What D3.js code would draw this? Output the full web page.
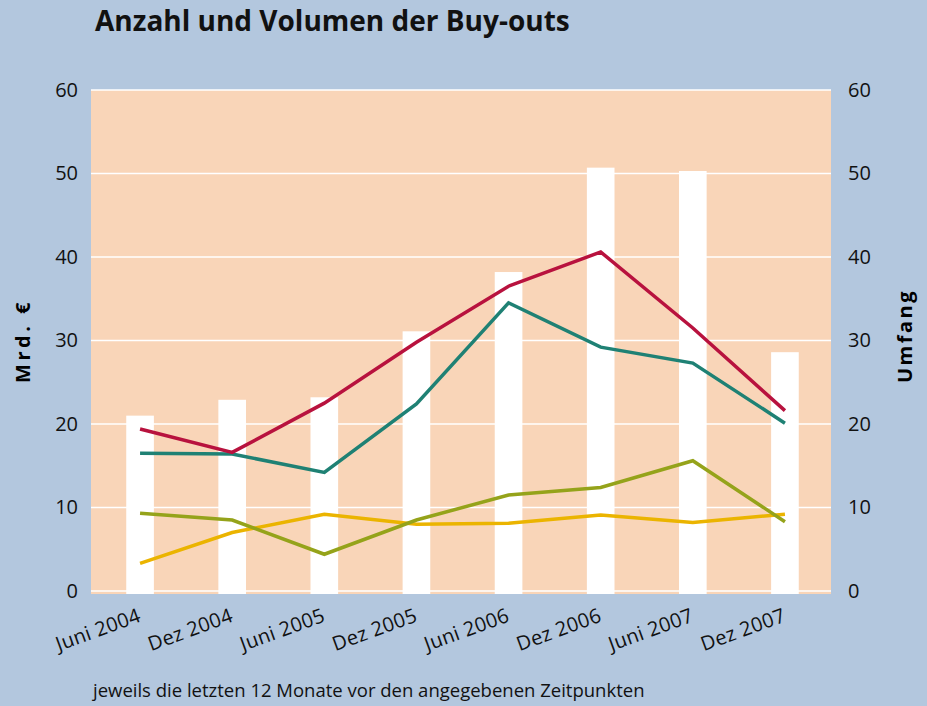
<!DOCTYPE html>
<html>
<head>
<meta charset="utf-8">
<script src="https://cdn.jsdelivr.net/npm/d3@7"></script>
<style>
  body { margin: 0; background: #b3c7de; }
  svg { display: block; }
  svg text { font-family: "Open Sans", sans-serif; }
</style>
</head>
<body>
<div id="chart"></div>
<script>
var periods = ["Juni 2004", "Dez 2004", "Juni 2005", "Dez 2005", "Juni 2006", "Dez 2006", "Juni 2007", "Dez 2007"];
var umfang = [21, 22.9, 23.2, 31.1, 38.2, 50.7, 50.3, 28.6];
var redLine = [19.4, 16.6, 22.5, 29.8, 36.5, 40.6, 31.5, 21.6];
var tealLine = [16.5, 16.4, 14.2, 22.4, 34.5, 29.2, 27.3, 20.1];
var oliveLine = [9.3, 8.5, 4.4, 8.5, 11.5, 12.4, 15.6, 8.3];
var yellowLine = [3.3, 7.0, 9.2, 8.0, 8.1, 9.1, 8.2, 9.2];
var yTicks = [0, 10, 20, 30, 40, 50, 60];

var W = 927, H = 706;
var svg = d3.select("#chart").append("svg")
    .attr("width", W)
    .attr("height", H)

svg.append("rect").attr("width", W).attr("height", H).attr("fill", "#b3c7de")

var plotLeft = 91, plotRight = 831, plotTop = 90, plotBottom = 591;

var x = d3.scaleBand()
    .domain(periods)
    .range([94, plotRight])
    .paddingInner(0.7)
    .paddingOuter(0.35)

var y = d3.scaleLinear()
    .domain([0, 60])
    .range([plotBottom, plotTop])

// pane
svg.append("rect")
    .attr("x", plotLeft).attr("y", plotTop)
    .attr("width", plotRight - plotLeft).attr("height", plotBottom - plotTop + 3)
    .attr("fill", "#f9d5b8")

// grid
svg.append("g")
    .selectAll("line")
    .data(yTicks)
    .enter().append("line")
    .attr("x1", plotLeft).attr("x2", plotRight)
    .attr("y1", function (d) { return y(d); })
    .attr("y2", function (d) { return y(d); })
    .attr("stroke", "#ffffff")
    .attr("stroke-width", 1.5)

// bars
svg.append("g")
    .selectAll("rect")
    .data(umfang)
    .enter().append("rect")
    .attr("x", function (d, i) { return x(periods[i]); })
    .attr("y", function (d) { return y(d); })
    .attr("width", x.bandwidth())
    .attr("height", function (d) { return plotBottom + 3 - y(d); })
    .attr("fill", "#ffffff")

// lines
var line = d3.line()
    .x(function (d, i) { return x(periods[i]) + x.bandwidth() / 2; })
    .y(function (d) { return y(d); })

var series = [
    { values: yellowLine, color: "#ebb400" },
    { values: oliveLine, color: "#95a31a" },
    { values: tealLine, color: "#1f8174" },
    { values: redLine, color: "#b8123e" }
];
series.forEach(function (s) {
    svg.append("path")
        .data([s.values])
        .attr("d", line)
        .attr("fill", "none")
        .attr("stroke", s.color)
        .attr("stroke-width", 3.5)
})

// axes
var yAxisL = d3.axisLeft(y).tickValues(yTicks).tickSize(0).tickPadding(0);
svg.append("g")
    .attr("transform", "translate(78,0)")
    .call(yAxisL)
    .call(function (g) { g.select(".domain").remove(); })
    .selectAll("text")
    .style("font-size", "20px")
    .attr("fill", "#111")

var yAxisR = d3.axisRight(y).tickValues(yTicks).tickSize(0).tickPadding(0);
svg.append("g")
    .attr("transform", "translate(848,0)")
    .call(yAxisR)
    .call(function (g) { g.select(".domain").remove(); })
    .selectAll("text")
    .style("font-size", "20px")
    .attr("fill", "#111")

var xAxis = d3.axisBottom(x).tickSize(0).tickPadding(0);
svg.append("g")
    .attr("transform", "translate(0," + plotBottom + ")")
    .call(xAxis)
    .call(function (g) { g.select(".domain").remove(); })
    .selectAll("text")
    .style("font-size", "20px")
    .style("letter-spacing", "0.3px")
    .attr("fill", "#111")
    .attr("text-anchor", "end")
    .attr("dy", 0)
    .attr("y", 0)
    .attr("transform", "translate(2,30) rotate(-20)")

// axis titles
svg.append("text")
    .attr("transform", "translate(30,341) rotate(-90)")
    .attr("text-anchor", "middle")
    .style("font-size", "20px")
    .style("font-weight", "bold")
    .style("letter-spacing", "3.5px")
    .text("Mrd. €")

svg.append("text")
    .attr("transform", "translate(912,336) rotate(-90)")
    .attr("text-anchor", "middle")
    .style("font-size", "20px")
    .style("font-weight", "bold")
    .style("letter-spacing", "2.5px")
    .text("Umfang")

// title
svg.append("text")
    .attr("x", 95).attr("y", 31)
    .style("font-size", "28px")
    .style("font-weight", "bold")
    .attr("fill", "#111")
    .text("Anzahl und Volumen der Buy-outs")

svg.append("text")
    .attr("x", 93).attr("y", 697)
    .style("font-size", "18.5px")
    .attr("fill", "#111")
    .text("jeweils die letzten 12 Monate vor den angegebenen Zeitpunkten")
</script>
</body>
</html>
